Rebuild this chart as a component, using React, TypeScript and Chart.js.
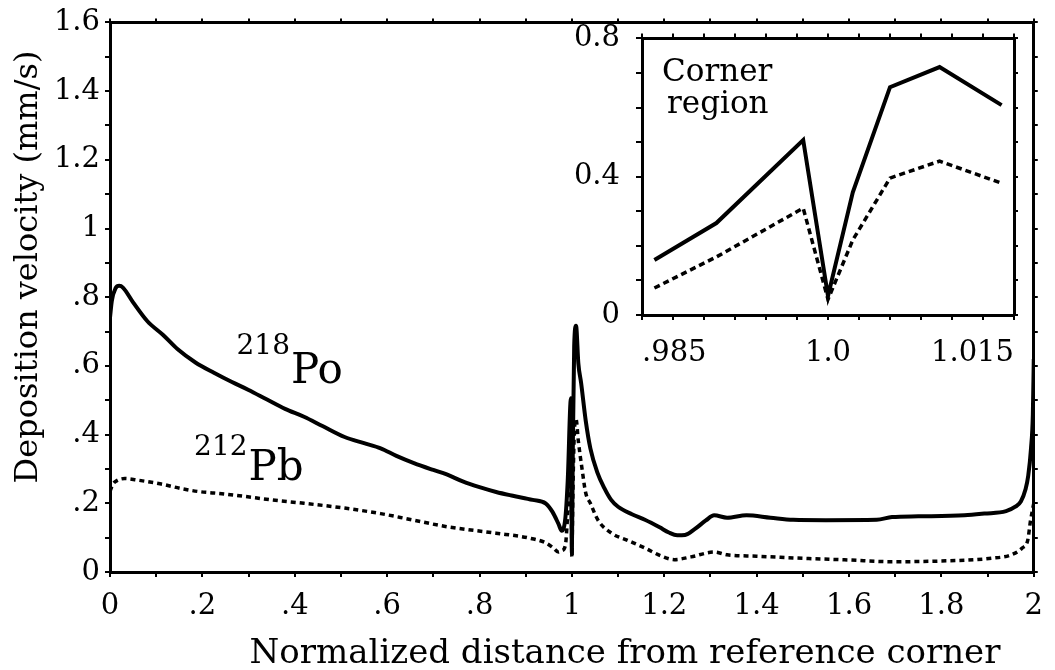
import React, { useEffect, useRef } from 'react';
import { Chart, registerables } from 'chart.js';

Chart.register(...registerables);

// ---------- data ----------
const poDistance = [
  0.0, 0.004, 0.012, 0.02, 0.028, 0.05, 0.081, 0.115, 0.146, 0.185, 0.225, 0.264, 0.3, 0.34, 0.379, 0.42,
  0.46, 0.508, 0.55, 0.586, 0.62, 0.658, 0.7, 0.729, 0.765, 0.8, 0.836, 0.872, 0.915, 0.943, 0.958, 0.971,
  0.978, 0.986, 0.991, 0.998, 1.0, 1.002, 1.005, 1.009, 1.014, 1.02, 1.03, 1.04, 1.055, 1.07, 1.085, 1.1,
  1.13, 1.158, 1.19, 1.21, 1.228, 1.245, 1.265, 1.29, 1.308, 1.336, 1.378, 1.43, 1.479, 1.55, 1.66, 1.693,
  1.75, 1.85, 1.893, 1.94, 1.96, 1.972, 1.982, 1.988, 1.994, 1.998, 2.0,
];
const poVelocity = [
  0.74, 0.79, 0.826, 0.833, 0.828, 0.785, 0.73, 0.69, 0.649, 0.61, 0.58, 0.553, 0.53, 0.502, 0.475, 0.452,
  0.425, 0.393, 0.375, 0.36, 0.338, 0.317, 0.297, 0.284, 0.263, 0.247, 0.233, 0.222, 0.21, 0.2, 0.175, 0.14,
  0.12, 0.159, 0.266, 0.506, 0.055, 0.355, 0.659, 0.717, 0.607, 0.55, 0.44, 0.36, 0.29, 0.245, 0.21, 0.19,
  0.168, 0.152, 0.13, 0.115, 0.107, 0.108, 0.124, 0.15, 0.165, 0.158, 0.165, 0.158, 0.152, 0.151, 0.152, 0.16,
  0.162, 0.165, 0.17, 0.177, 0.19, 0.205, 0.24, 0.28, 0.36, 0.46, 0.62,
];

const pbDistance = [
  0.0, 0.006, 0.015, 0.032, 0.057, 0.111, 0.157, 0.193, 0.225, 0.28, 0.35, 0.42, 0.508, 0.586, 0.65, 0.729,
  0.836, 0.907, 0.943, 0.96, 0.971, 0.978, 0.986, 0.991, 0.998, 1.0, 1.002, 1.005, 1.009, 1.014, 1.022, 1.03,
  1.04, 1.057, 1.087, 1.121, 1.158, 1.193, 1.222, 1.258, 1.308, 1.336, 1.4, 1.479, 1.6, 1.693, 1.8, 1.908,
  1.951, 1.975, 1.987, 1.993, 2.0,
];
const pbVelocity = [
  0.235, 0.255, 0.266, 0.272, 0.268, 0.256, 0.242, 0.234, 0.23, 0.222, 0.21, 0.2, 0.186, 0.17, 0.153, 0.132,
  0.113, 0.099, 0.085, 0.07, 0.058, 0.062, 0.078, 0.168, 0.309, 0.045, 0.217, 0.396, 0.445, 0.381, 0.3, 0.23,
  0.2, 0.15, 0.112, 0.092, 0.07, 0.047, 0.036, 0.044, 0.058, 0.05, 0.046, 0.041, 0.035, 0.03, 0.032, 0.04,
  0.05, 0.07, 0.093, 0.15, 0.2,
];

// tick labels
const mainXTickValues = [0, 0.2, 0.4, 0.6, 0.8, 1, 1.2, 1.4, 1.6, 1.8, 2];
const mainXTickLabels = ['0', '.2', '.4', '.6', '.8', '1', '1.2', '1.4', '1.6', '1.8', '2'];
const mainYTickValues = [0, 0.2, 0.4, 0.6, 0.8, 1, 1.2, 1.4, 1.6];
const mainYTickLabels = ['0', '.2', '.4', '.6', '.8', '1', '1.2', '1.4', '1.6'];
const insetXTickValues = [0.985, 1.0, 1.015];
const insetXTickLabels = ['.985', '1.0', '1.015'];
const insetYTickValues = [0, 0.4, 0.8];
const insetYTickLabels = ['0', '0.4', '0.8'];

// texts
const xTitle = 'Normalized distance from reference corner';
const yTitle = 'Deposition velocity (mm/s)';
const insetTitle = ['Corner', 'region'];
const seriesLabels = [
  { sup: '218', base: 'Po', x: 0.274, y: 0.551, shift: 29 },
  { sup: '212', base: 'Pb', x: 0.182, y: 0.267, shift: 25 },
];

const FONT = "'DejaVu Serif', serif";

function tickFmt(values: number[], labels: string[]) {
  return (v: number) => {
    const i = values.findIndex((t) => Math.abs(t - Number(v)) < 1e-7);
    return i >= 0 ? labels[i] : '';
  };
}

function toPoints(xs: number[], ys: number[], lo = -Infinity, hi = Infinity) {
  const out: { x: number; y: number }[] = [];
  xs.forEach((x, i) => {
    if (x >= lo - 1e-9 && x <= hi + 1e-9) out.push({ x, y: ys[i] });
  });
  return out;
}

function axis(opts: any) {
  const { position, min, max, step, size, labels, tickLen, padding, align } = opts;
  return {
    type: 'linear',
    position,
    min,
    max,
    ticks: {
      stepSize: step,
      autoSkip: false,
      maxRotation: 0,
      minRotation: 0,
      display: !!labels,
      callback: labels ? tickFmt(labels[0], labels[1]) : undefined,
      font: { family: FONT, size: 29 },
      color: '#000',
      padding: padding ?? 6,
      align: align ?? 'center',
    },
    grid: {
      drawOnChartArea: false,
      drawTicks: true,
      tickLength: tickLen,
      color: '#000',
      lineWidth: 2,
    },
    border: { display: true, width: 3, color: '#000' },
    title: { display: false },
    afterFit: (s: any) => {
      if (position === 'left' || position === 'right') s.width = size;
      else s.height = size;
    },
  };
}

const mainTextPlugin = {
  id: 'mainText',
  afterDraw(chart: any) {
    const ctx = chart.ctx;
    const xs = chart.scales.x;
    const ys = chart.scales.y;
    ctx.save();
    ctx.fillStyle = '#000';
    ctx.textBaseline = 'alphabetic';
    // axis titles
    ctx.font = `34px ${FONT}`;
    ctx.textAlign = 'center';
    ctx.fillText(xTitle, 625, 663);
    ctx.save();
    ctx.translate(37, 267);
    ctx.rotate(-Math.PI / 2);
    ctx.font = `32px ${FONT}`;
    ctx.fillText(yTitle, 0, 0);
    ctx.restore();
    // series labels
    ctx.textAlign = 'left';
    seriesLabels.forEach((l) => {
      const px = xs.getPixelForValue(l.x);
      const py = ys.getPixelForValue(l.y);
      ctx.font = `28px ${FONT}`;
      ctx.fillText(l.sup, px, py - l.shift);
      const w = ctx.measureText(l.sup).width;
      ctx.font = `42px ${FONT}`;
      ctx.fillText(l.base, px + w + 1, py);
    });
    ctx.restore();
  },
};

const insetTextPlugin = {
  id: 'insetText',
  afterDraw(chart: any) {
    const ctx = chart.ctx;
    const a = chart.chartArea;
    ctx.save();
    ctx.fillStyle = '#000';
    ctx.textAlign = 'left';
    ctx.textBaseline = 'alphabetic';
    ctx.font = `31px ${FONT}`;
    ctx.fillText(insetTitle[0], a.left + 20, a.top + 43);
    ctx.fillText(insetTitle[1], a.left + 25, a.top + 75);
    ctx.restore();
  },
};

export default function App() {
  const mainRef = useRef<HTMLCanvasElement>(null);
  const insetRef = useRef<HTMLCanvasElement>(null);

  useEffect(() => {
    const common = {
      animation: false,
      responsive: false,
      devicePixelRatio: 1,
      layout: { padding: 0 },
      plugins: { legend: { display: false }, tooltip: { enabled: false } },
      elements: { point: { radius: 0 } },
    };

    const main = new Chart(mainRef.current!, {
      type: 'line',
      data: {
        datasets: [
          {
            data: toPoints(poDistance, poVelocity),
            borderColor: '#000',
            borderWidth: 4,
            pointRadius: 0,
            cubicInterpolationMode: 'monotone',
            fill: false,
            xAxisID: 'x',
            yAxisID: 'y',
          },
          {
            data: toPoints(pbDistance, pbVelocity),
            borderColor: '#000',
            borderWidth: 3.5,
            borderDash: [5, 4],
            pointRadius: 0,
            cubicInterpolationMode: 'monotone',
            fill: false,
            xAxisID: 'x',
            yAxisID: 'y',
          },
        ],
      },
      options: {
        ...common,
        scales: {
          x: axis({ position: 'bottom', min: 0, max: 2, step: 0.1, size: 98, labels: [mainXTickValues, mainXTickLabels], tickLen: 5, padding: 12 }),
          x2: axis({ position: 'top', min: 0, max: 2, step: 0.1, size: 20, tickLen: 4 }),
          y: axis({ position: 'left', min: 0, max: 1.6, step: 0.1, size: 110, labels: [mainYTickValues, mainYTickLabels], tickLen: 5, padding: 5 }),
          y2: axis({ position: 'right', min: 0, max: 1.6, step: 0.1, size: 11, tickLen: 4 }),
        },
      } as any,
      plugins: [mainTextPlugin],
    } as any);

    const inset = new Chart(insetRef.current!, {
      type: 'line',
      data: {
        datasets: [
          {
            data: toPoints(poDistance, poVelocity, 0.985, 1.015),
            borderColor: '#000',
            borderWidth: 4,
            pointRadius: 0,
            tension: 0,
            fill: false,
            xAxisID: 'x',
            yAxisID: 'y',
          },
          {
            data: toPoints(pbDistance, pbVelocity, 0.985, 1.015),
            borderColor: '#000',
            borderWidth: 3.5,
            borderDash: [6, 4],
            pointRadius: 0,
            tension: 0,
            fill: false,
            xAxisID: 'x',
            yAxisID: 'y',
          },
        ],
      },
      options: {
        ...common,
        scales: {
          x: axis({ position: 'bottom', min: 0.985, max: 1.015, step: 0.0025, size: 63, labels: [insetXTickValues, insetXTickLabels], tickLen: 5, padding: 16, align: 'inner' }),
          x2: axis({ position: 'top', min: 0.985, max: 1.015, step: 0.0025, size: 9, tickLen: 5 }),
          y: axis({ position: 'left', min: 0, max: 0.8, step: 0.1, size: 82, labels: [insetYTickValues, insetYTickLabels], tickLen: 6, padding: 16 }),
          y2: axis({ position: 'right', min: 0, max: 0.8, step: 0.1, size: 12, tickLen: 4 }),
        },
      } as any,
      plugins: [insetTextPlugin],
    } as any);

    return () => {
      main.destroy();
      inset.destroy();
    };
  }, []);

  return (
    <div style={{ position: 'absolute', left: 0, top: 0, width: 1055, height: 670, background: '#fff' }}>
      <canvas ref={mainRef} width={1055} height={670} style={{ position: 'absolute', left: 0, top: 0, width: 1055, height: 670 }} />
      <canvas ref={insetRef} width={470} height={373} style={{ position: 'absolute', left: 560, top: 5, width: 470, height: 373 }} />
    </div>
  );
}
